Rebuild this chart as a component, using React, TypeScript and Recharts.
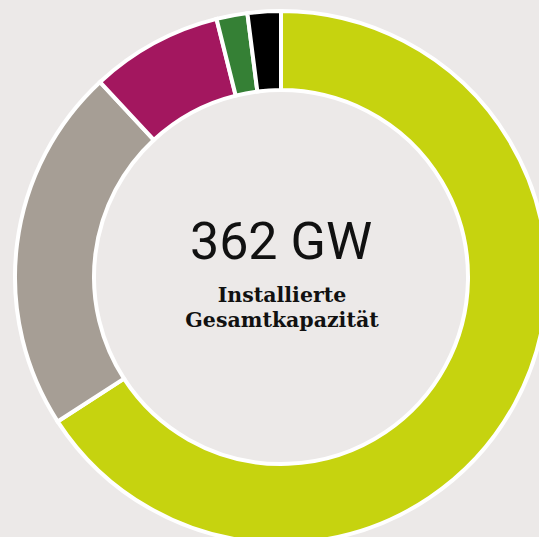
import { PieChart, Pie, Cell } from "recharts";

// installed capacity by source (GW), read from the ring
const sources = ["Lime", "Grau", "Magenta", "Grün", "Schwarz"];
const capacity = [238.4, 80.5, 29.0, 6.8, 7.3];
const colors = ["#c6d30f", "#a69e95", "#a3175f", "#358035", "#000000"];

const totalLabel = "362 GW";
const subtitle = ["Installierte", "Gesamtkapazität"];

const data = sources.map((name, i) => ({ name, value: capacity[i] }));

export default function App() {
  return (
    <div
      style={{
        position: "absolute",
        top: 0,
        left: 0,
        width: 539,
        height: 537,
        background: "#ece9e8",
        overflow: "hidden",
      }}
    >
      <PieChart width={539} height={537} margin={{ top: 0, right: 0, bottom: 0, left: 0 }}>
        <Pie
          data={data}
          dataKey="value"
          nameKey="name"
          cx={281}
          cy={277}
          innerRadius={187}
          outerRadius={266}
          startAngle={90}
          endAngle={-270}
          stroke="#ffffff"
          strokeWidth={4}
          isAnimationActive={false}
        >
          {data.map((d, i) => (
            <Cell key={d.name} fill={colors[i]} />
          ))}
        </Pie>
      </PieChart>
      <svg
        width={539}
        height={537}
        style={{ position: "absolute", top: 0, left: 0, pointerEvents: "none" }}
      >
        <text
          x={281}
          y={259}
          textAnchor="middle"
          fontFamily="Roboto"
          fontWeight={400}
          fontSize={52}
          fill="#111"
        >
          {totalLabel}
        </text>
        {subtitle.map((line, i) => (
          <text
            key={line}
            x={282}
            y={302 + i * 25}
            textAnchor="middle"
            fontFamily="'DejaVu Serif'"
            fontWeight={700}
            fontSize={20.5}
            fill="#111"
          >
            {line}
          </text>
        ))}
      </svg>
    </div>
  );
}
